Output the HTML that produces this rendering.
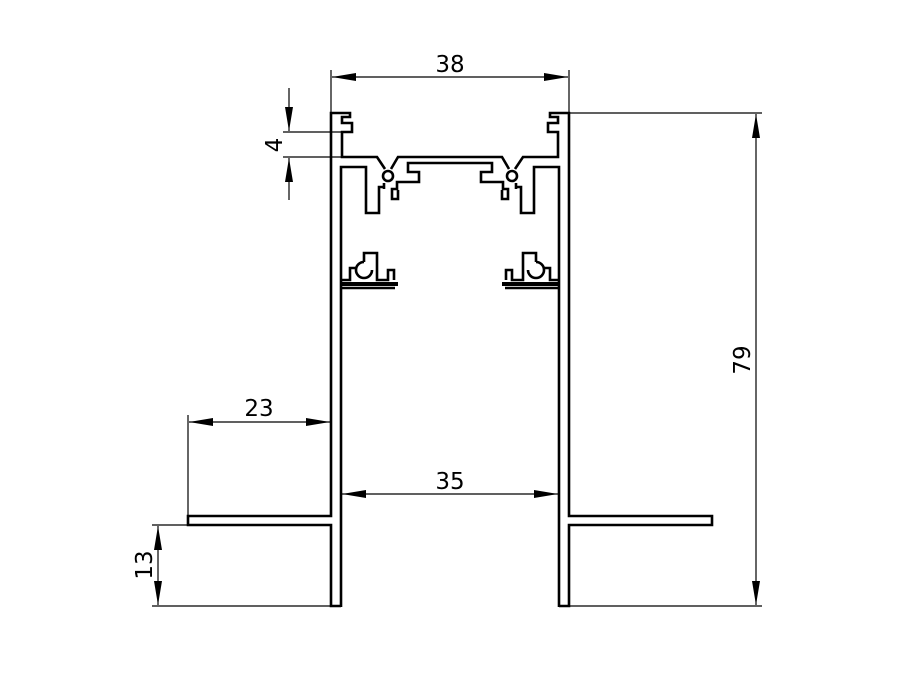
<!DOCTYPE html>
<html><head><style>html,body{margin:0;padding:0;background:#fff}svg{display:block}</style></head>
<body>
<svg width="900" height="675" viewBox="0 0 900 675" xmlns="http://www.w3.org/2000/svg">
<defs>
<marker id="b" viewBox="0 0 24 8" refX="24" refY="4" markerWidth="24" markerHeight="8" markerUnits="userSpaceOnUse" orient="auto-start-reverse">
<path d="M0,0 L24,4 L0,8 z" fill="#000"/></marker>
<g id="half" fill="none" stroke="#000" stroke-width="2.6" stroke-linejoin="miter">
<path d="M341,606 H331 V525 H188 V516 H331 V113 H350 V117 H342 V123 H352 V132 H342 V157 H377 L385,169"/>
<path d="M391,169 L398,157 H450"/>
<circle cx="388" cy="176" r="5"/>
<path d="M450,163 H408 V172 H419 V182 H397 V189 H392 V199 H398 V190"/>
<path d="M384,183 V189"/>
<path d="M341,288 V167 H366 V213 H379 V187 H384"/>
<path d="M341,280 H350 V268 H357"/>
<path d="M364,262 A8,8 0 1 0 372,270"/>
<path d="M364,262 V253 H377 V280 H388 V270 H394 V280"/>
<path d="M341,284 H398" stroke-width="4"/>
<path d="M341,288 H395"/>
<path d="M341,288 V607"/>
</g>
</defs>
<use href="#half"/>
<use href="#half" transform="translate(900,0) scale(-1,1)"/>
<g stroke="#000" stroke-width="1.2" fill="none">
<path d="M331,70 V113 M569,70 V113"/>
<path d="M332,77 H568" marker-start="url(#b)" marker-end="url(#b)"/>
<path d="M569,113 H762 M569,606 H762"/>
<path d="M756,114 V605" marker-start="url(#b)" marker-end="url(#b)"/>
<path d="M283,132 H342 M283,157 H342"/>
<path d="M289,88 V131" marker-end="url(#b)"/>
<path d="M289,200 V158" marker-end="url(#b)"/>
<path d="M188,415 V516"/>
<path d="M189,422 H330" marker-start="url(#b)" marker-end="url(#b)"/>
<path d="M342,494 H558" marker-start="url(#b)" marker-end="url(#b)"/>
<path d="M152,525 H188 M152,606 H331"/>
<path d="M158,526 V605" marker-start="url(#b)" marker-end="url(#b)"/>
</g>
<g font-family="'DejaVu Sans','Liberation Sans',sans-serif" font-size="23" fill="#000" text-anchor="middle">
<text x="450" y="72">38</text>
<text x="259" y="416">23</text>
<text x="450" y="489">35</text>
<text transform="translate(750,360) rotate(-90)">79</text>
<text transform="translate(282,145) rotate(-90)">4</text>
<text transform="translate(152,565) rotate(-90)">13</text>
</g>
</svg>
</body></html>
